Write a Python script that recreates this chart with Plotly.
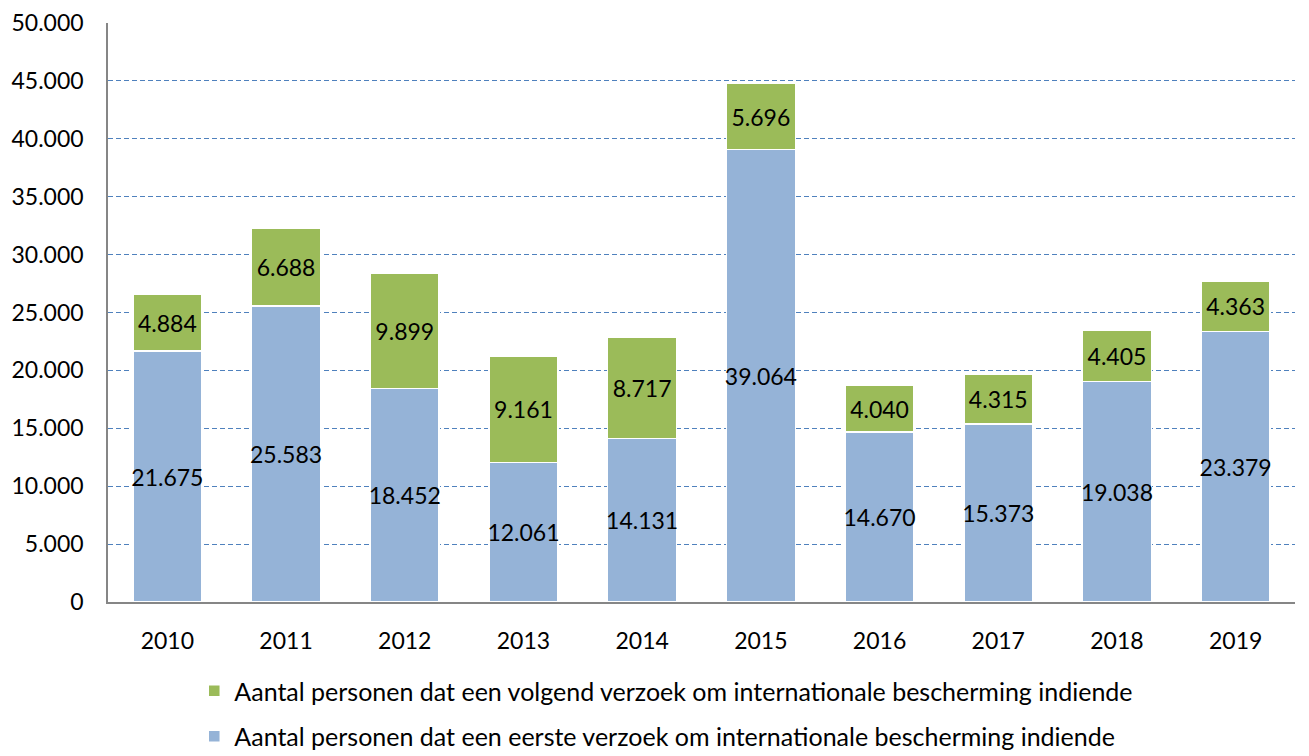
import plotly.graph_objects as go

years = ["2010", "2011", "2012", "2013", "2014", "2015", "2016", "2017", "2018", "2019"]
eerste = [21675, 25583, 18452, 12061, 14131, 39064, 14670, 15373, 19038, 23379]
volgend = [4884, 6688, 9899, 9161, 8717, 5696, 4040, 4315, 4405, 4363]
name_eerste = "Aantal personen dat een eerste verzoek om internationale bescherming indiende"
name_volgend = "Aantal personen dat een volgend verzoek om internationale bescherming indiende"
y_ticks = [0, 5000, 10000, 15000, 20000, 25000, 30000, 35000, 40000, 45000, 50000]

FONT = "Lato, 'Open Sans', sans-serif"
fig = go.Figure()
fig.add_trace(go.Bar(
    x=years, y=eerste, name=name_eerste, legendgroup="b", legendrank=2,
    marker=dict(color="#95B3D7", line=dict(color="white", width=1.5)),
    texttemplate="%{y:,}", textposition="inside", insidetextanchor="middle",
    textangle=0, constraintext="none",
    textfont=dict(color="black", size=23, family=FONT),
))
fig.add_trace(go.Bar(
    x=years, y=volgend, name=name_volgend, legendgroup="a", legendrank=1,
    marker=dict(color="#9BBB59", line=dict(color="white", width=1.5)),
    texttemplate="%{y:,}", textposition="inside", insidetextanchor="middle",
    textangle=0, constraintext="none",
    textfont=dict(color="black", size=23, family=FONT),
))
fig.update_layout(
    width=1309, height=756,
    barmode="stack", bargap=0.42,
    separators=",.",
    paper_bgcolor="white", plot_bgcolor="white",
    margin=dict(l=108, r=14, t=23, b=154, autoexpand=False),
    font=dict(family=FONT, size=23, color="black"),
    showlegend=True,
    legend=dict(orientation="v", traceorder="grouped", tracegroupgap=10,
                x=0.509, xanchor="center", xref="container",
                y=1 - 668 / 756, yanchor="top", yref="container",
                font=dict(size=25, family=FONT)),
    xaxis=dict(showline=True, linecolor="#868686", linewidth=1.5, ticks="",
               ticklabelstandoff=18, tickfont=dict(size=23)),
    yaxis=dict(range=[0, 50000], tickvals=y_ticks, tickformat=",",
               showline=True, linecolor="#868686", linewidth=1.5,
               showgrid=True, gridcolor="#4F81BD", griddash="5px,3px", gridwidth=1.3,
               zeroline=False, ticks="", ticklabelstandoff=18, tickfont=dict(size=23)),
)
fig.write_html("out.html")
